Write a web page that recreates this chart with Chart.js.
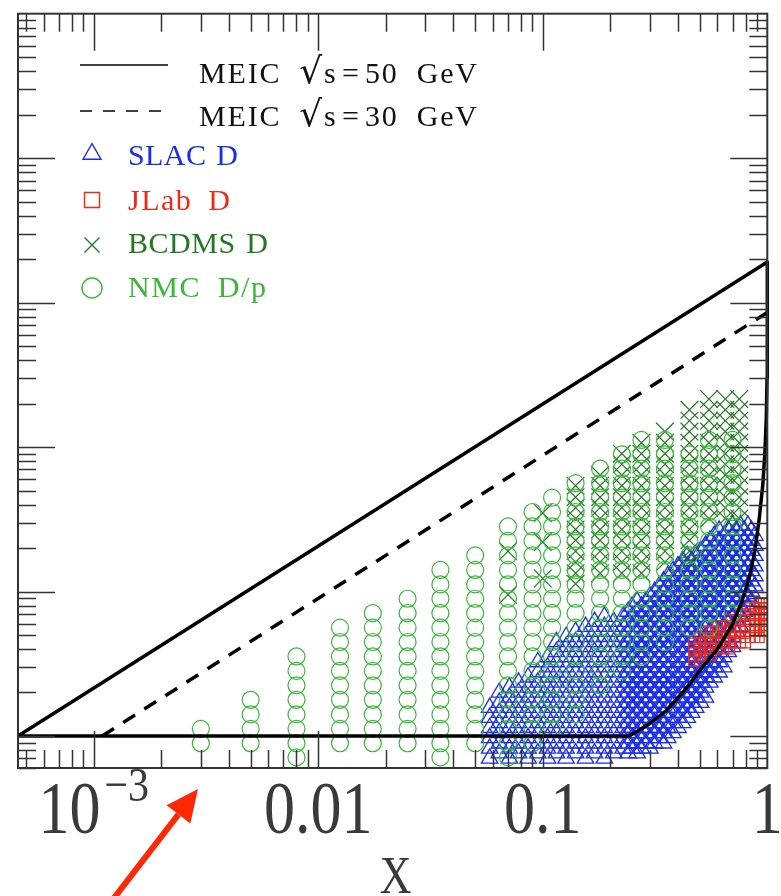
<!DOCTYPE html>
<html lang="en">
<head>
<meta charset="UTF-8">
<title>MEIC kinematic coverage</title>
<script src="https://cdn.jsdelivr.net/npm/chart.js@4.4.1/dist/chart.umd.min.js"></script>
<style>
  body { margin: 0; background: #fff; }
  canvas { display: block; }
</style>
</head>
<body>
<canvas id="myChart" width="781" height="896"></canvas>
<script>
// axis ranges and tick labels
var xMin = 4.6e-4, xMax = 1;
var yMin = 0.6, yMax = 1e5;
var xTicks = [0.001, 0.01, 0.1, 1];
var xTickLabels = ['10^−3', '0.01', '0.1', '1'];
var xTitle = 'X';

// MEIC coverage boundaries (x, Q2)
var meic50X  = [4.6e-4, 0.243, 0.3, 0.355, 0.42, 0.5, 0.6, 0.7, 0.77, 0.83, 0.88, 0.92, 0.955, 0.975, 0.99, 0.997, 1, 4.6e-4];
var meic50Q2 = [1, 1, 1.22, 1.5, 2.0, 2.83, 4.0, 5.95, 8.5, 12.3, 19, 31.6, 55, 90, 160, 300, 1910, 1];
var meic30X  = [1.09e-3, 1];
var meic30Q2 = [1, 855];

// NMC D/p : x bins, Q2 bins, Q2 range of each column
var nmcX  = [0.003, 0.005, 0.008, 0.0125, 0.0175, 0.025, 0.035, 0.05, 0.07, 0.09, 0.11, 0.14, 0.18, 0.225, 0.275, 0.35, 0.45, 0.55, 0.7];
var nmcQ2Bins = [0.71, 0.89, 1.12, 1.41, 1.78, 2.24, 2.82, 3.55, 4.47, 5.62, 7.08, 8.91, 11.2, 14.1, 17.8, 22.4, 28.2, 35.5, 44.7, 56.2, 70.8, 89.1, 112];
var nmcLo = [0.89, 0.89, 0.71, 0.89, 0.89, 0.89, 0.71, 0.89, 0.71, 0.89, 1.12, 1.41, 2.24, 2.82, 3.55, 4.47, 5.62, 5.62, 7.08];
var nmcHi = [1.12, 1.78, 3.55, 5.62, 7.08, 8.91, 14.1, 17.8, 28.2, 35.5, 44.7, 56.2, 70.8, 89.1, 112, 112, 89.1, 112, 112];

// BCDMS D
var bcdmsX  = [0.14, 0.18, 0.225, 0.275, 0.35, 0.45, 0.55, 0.65, 0.75];
var bcdmsQ2Bins = [9.5, 11.3, 13.4, 16, 19, 22.6, 26.9, 32, 38, 45, 54, 64, 76, 90, 107, 128, 152, 181, 215];
var bcdmsLo = [11.3, 13.4, 13.4, 13.4, 16, 16, 32, 32, 32];
var bcdmsHi = [54, 64, 90, 107, 128, 181, 215, 215, 215];
var bcdmsSparseX  = [0.07, 0.07, 0.1, 0.1, 0.1];
var bcdmsSparseQ2 = [9.5, 19, 12.3, 22, 35];

// SLAC D
var slacX  = [0.058, 0.064, 0.071, 0.078, 0.086, 0.095, 0.105, 0.115, 0.127, 0.14, 0.155, 0.17, 0.188, 0.207, 0.228,
              0.24, 0.25, 0.263, 0.275, 0.288, 0.3, 0.315, 0.33, 0.345, 0.36, 0.38, 0.4, 0.42, 0.44, 0.46,
              0.48, 0.505, 0.53, 0.555, 0.58, 0.61, 0.64, 0.67, 0.7, 0.73, 0.76, 0.79, 0.82, 0.85, 0.88];
var slacQ2BinsA = [0.7, 0.82, 0.97, 1.14, 1.34, 1.57, 1.85, 2.17, 2.55, 3.0, 3.52, 4.14, 4.86, 5.71, 6.71, 7.89, 9.27, 10.9, 12.8, 15.0, 17.7, 20.8, 24.4, 28.7];
var slacQ2BinsB = [0.76, 0.89, 1.05, 1.23, 1.45, 1.7, 2.0, 2.35, 2.76, 3.25, 3.82, 4.48, 5.27, 6.19, 7.27, 8.55, 10.0, 11.8, 13.9, 16.3, 19.2, 22.5, 26.5, 31.1];
var slacLo = [0.7, 0.7, 0.7, 0.7, 0.7, 0.7, 0.7, 0.7, 0.7, 0.7, 0.7, 0.7, 0.7, 0.7, 0.72,
              0.73, 0.75, 0.76, 0.78, 0.79, 0.8, 0.82, 0.85, 0.88, 0.92, 0.96, 1.0, 1.1, 1.2, 1.3,
              1.4, 1.6, 1.8, 2.1, 2.4, 2.7, 3.0, 3.5, 4.0, 4.5, 5.0, 6.0, 7.0, 8.5, 10];
var slacHi = [1.7, 2.0, 2.2, 2.5, 2.9, 3.4, 4.0, 4.5, 5.0, 5.4, 5.8, 6.3, 6.8, 7.2, 7.6,
              8.0, 8.4, 8.8, 9.2, 9.6, 10, 10.8, 11.5, 12.2, 13, 14.2, 15.5, 16.8, 18, 19,
              20, 21.5, 23, 24, 25, 26.5, 28, 29, 30, 30, 30, 29.5, 29, 28, 27];

// JLab D
var jlabX  = [0.47, 0.5, 0.53, 0.56, 0.6, 0.64, 0.68, 0.72, 0.76, 0.8, 0.84, 0.88, 0.92, 0.96, 0.99];
var jlabQ2Bins = [3.0, 3.3, 3.6, 4.0, 4.4, 4.8, 5.3, 5.8, 6.4, 7.0, 7.7, 8.4];
var jlabLo = [3.3, 3.3, 3.6, 3.6, 4.0, 4.0, 4.0, 4.4, 4.4, 4.4, 4.8, 4.8, 4.8, 5.3, 5.3];
var jlabHi = [4.4, 4.8, 5.3, 5.3, 5.8, 5.8, 6.4, 6.4, 7.0, 7.0, 7.7, 7.7, 8.4, 8.4, 8.4];

var blue = 'rgb(25,45,235)', red = 'rgb(240,40,20)', dkgreen = 'rgb(35,120,35)', ltgreen = 'rgb(55,185,55)';

function pairs(xs, ys) {
  return xs.map(function (x, i) { return { x: x, y: ys[i] }; });
}
// keep the bins of each column that fall inside its measured range
function columns(xs, bins, lo, hi) {
  var pts = [];
  xs.forEach(function (x, i) {
    var b = Array.isArray(bins[0]) ? bins[i % bins.length] : bins;
    b.forEach(function (q) {
      if (q >= lo[i] * 0.999 && q <= hi[i] * 1.001) pts.push({ x: x, y: q });
    });
  });
  return pts;
}

var datasets = [
  { label: 'MEIC √s=50 GeV', data: pairs(meic50X, meic50Q2), showLine: true, borderColor: '#000', borderWidth: 3.5,
    pointRadius: 0, borderJoinStyle: 'round', order: 0, clip: 4 },
  { label: 'MEIC √s=30 GeV', data: pairs(meic30X, meic30Q2), showLine: true, borderColor: '#000', borderWidth: 3.5,
    borderDash: [14, 11], pointRadius: 0, order: 0, clip: 4 },
  { label: 'SLAC D', data: columns(slacX, [slacQ2BinsA, slacQ2BinsB], slacLo, slacHi), pointStyle: 'triangle',
    pointRadius: 9.5, borderColor: blue, backgroundColor: 'rgba(0,0,0,0)', pointBorderWidth: 1.3, order: 4, clip: 0 },
  { label: 'JLab D', data: columns(jlabX, jlabQ2Bins, jlabLo, jlabHi), pointStyle: 'rect',
    pointRadius: 7, borderColor: red, backgroundColor: 'rgba(0,0,0,0)', pointBorderWidth: 1.2, order: 3, clip: 0 },
  { label: 'BCDMS D', data: columns(bcdmsX, bcdmsQ2Bins, bcdmsLo, bcdmsHi).concat(pairs(bcdmsSparseX, bcdmsSparseQ2)),
    pointStyle: 'crossRot', pointRadius: 12.5, borderColor: dkgreen, backgroundColor: 'rgba(0,0,0,0)', pointBorderWidth: 1.2, order: 2, clip: 0 },
  { label: 'NMC D/p', data: columns(nmcX, nmcQ2Bins, nmcLo, nmcHi), pointStyle: 'circle',
    pointRadius: 8.5, borderColor: ltgreen, backgroundColor: 'rgba(0,0,0,0)', pointBorderWidth: 1.2, order: 1, clip: 0 }
];

// inward ticks on all four sides + frame
var framePlugin = {
  id: 'frame',
  afterDatasetsDraw: function (chart) {
    var ctx = chart.ctx, a = chart.chartArea, xs = chart.scales.x, ys = chart.scales.y;
    ctx.save();
    ctx.strokeStyle = '#333';
    ctx.lineWidth = 1.5;
    ctx.beginPath();
    for (var e = -4; e <= 0; e++) {
      for (var m = 1; m <= 9; m++) {
        var v = m * Math.pow(10, e);
        if (v <= xMin || v >= xMax) continue;
        var px = Math.round(xs.getPixelForValue(v)) + 0.5, len = m === 1 ? 37 : 18;
        ctx.moveTo(px, a.bottom); ctx.lineTo(px, a.bottom - len);
        ctx.moveTo(px, a.top); ctx.lineTo(px, a.top + len);
      }
    }
    for (e = -1; e <= 5; e++) {
      for (m = 1; m <= 9; m++) {
        v = m * Math.pow(10, e);
        if (v <= yMin || v >= yMax) continue;
        var py = Math.round(ys.getPixelForValue(v)) + 0.5;
        len = m === 1 ? 37 : 18;
        ctx.moveTo(a.left, py); ctx.lineTo(a.left + len, py);
        ctx.moveTo(a.right, py); ctx.lineTo(a.right - len, py);
      }
    }
    ctx.stroke();
    ctx.lineWidth = 2;
    ctx.strokeRect(a.left, a.top, a.right - a.left, a.bottom - a.top);
    ctx.restore();
  }
};

// x tick labels and axis title, drawn a little taller than wide like the original
var labelPlugin = {
  id: 'xlabels',
  afterDraw: function (chart) {
    var ctx = chart.ctx, xs = chart.scales.x, sy = 1.18;
    ctx.save();
    ctx.fillStyle = '#3a3a3a';
    ctx.textBaseline = 'alphabetic';
    xTickLabels.forEach(function (lab, i) {
      var px = xs.getPixelForValue(xTicks[i]);
      var parts = lab.split('^');
      ctx.font = '62px "Liberation Serif", serif';
      var wb = ctx.measureText(parts[0]).width;
      var we = 0;
      if (parts[1]) { ctx.font = '42px "Liberation Serif", serif'; we = ctx.measureText(parts[1]).width + 4; }
      var x0 = px - (wb + we) / 2;
      ctx.save();
      ctx.translate(x0, 833); ctx.scale(1, sy);
      ctx.font = '62px "Liberation Serif", serif';
      ctx.textAlign = 'left';
      ctx.fillText(parts[0], 0, 0);
      ctx.restore();
      if (parts[1]) {
        ctx.save();
        ctx.translate(x0 + wb + 4, 801); ctx.scale(1, sy);
        ctx.font = '42px "Liberation Serif", serif';
        ctx.fillText(parts[1], 0, 0);
        ctx.restore();
      }
    });
    var a = chart.chartArea;
    ctx.save();
    ctx.translate((a.left + a.right) / 2 + 3, 893); ctx.scale(1, 1.2);
    ctx.font = '44px "Liberation Serif", serif';
    ctx.textAlign = 'center';
    ctx.fillText(xTitle, 0, 0);
    ctx.restore();
    ctx.restore();
  }
};

// text stretched to a target width, more of the stretch going into word gaps and around '='
function spacedText(ctx, text, x, y, target, baseFont, rootFont) {
  var chars = Array.from(text);
  function fontFor(c) { return c === '√' ? rootFont : baseFont; }
  var widths = chars.map(function (c) { ctx.font = fontFor(c); return ctx.measureText(c).width; });
  var natural = widths.reduce(function (s, w) { return s + w; }, 0);
  var weights = [], total = 0;
  for (var i = 0; i < chars.length - 1; i++) {
    var a = chars[i], b = chars[i + 1];
    var wgt = (a === ' ' || b === ' ') ? 2 : (a === '=' || b === '=') ? 2 : 0.6;
    weights.push(wgt); total += wgt;
  }
  var unit = total > 0 ? Math.max(0, target - natural) / total : 0;
  chars.forEach(function (c, k) {
    ctx.font = fontFor(c);
    ctx.fillText(c, x, y);
    x += widths[k] + (k < weights.length ? weights[k] * unit : 0);
  });
}

function marker(ctx, style, x, y, r) {
  ctx.beginPath();
  if (style === 'triangle') {
    ctx.moveTo(x, y - r); ctx.lineTo(x + r * 0.866, y + r / 2); ctx.lineTo(x - r * 0.866, y + r / 2); ctx.closePath();
  } else if (style === 'rect') {
    ctx.rect(x - r, y - r, 2 * r, 2 * r);
  } else if (style === 'crossRot') {
    ctx.moveTo(x - r, y - r); ctx.lineTo(x + r, y + r); ctx.moveTo(x + r, y - r); ctx.lineTo(x - r, y + r);
  } else {
    ctx.arc(x, y, r, 0, Math.PI * 2);
  }
  ctx.stroke();
}

// legend in the upper left corner
var legendPlugin = {
  id: 'legendBox',
  afterDraw: function (chart) {
    var ctx = chart.ctx;
    var rows = [
      { y: 65, base: 83, tx: 199, w: 278, size: 0 },
      { y: 111, base: 126, tx: 199, w: 278, size: 0 },
      { y: 154, base: 165, tx: 128, w: 110, size: 10.4 },
      { y: 200, base: 210, tx: 128, w: 102, size: 7.5 },
      { y: 245, base: 253, tx: 128, w: 140, size: 7.5 },
      { y: 288, base: 297, tx: 128, w: 138, size: 10 }
    ];
    var baseFont = '30px "Liberation Serif", serif', rootFont = '36px "DejaVu Serif", serif';
    ctx.save();
    ctx.textBaseline = 'alphabetic';
    chart.data.datasets.forEach(function (ds, i) {
      var r = rows[i];
      if (ds.showLine) {
        ctx.strokeStyle = '#000';
        ctx.lineWidth = 1.6;
        ctx.setLineDash(ds.borderDash ? [12, 11] : []);
        ctx.beginPath(); ctx.moveTo(80, r.y); ctx.lineTo(168, r.y); ctx.stroke();
        ctx.setLineDash([]);
        ctx.fillStyle = '#111';
      } else {
        ctx.strokeStyle = ds.borderColor;
        ctx.lineWidth = 1.4;
        marker(ctx, ds.pointStyle, 92, r.y, r.size);
        ctx.fillStyle = ds.borderColor;
      }
      spacedText(ctx, ds.label, r.tx, r.base, r.w, baseFont, rootFont);
    });
    ctx.restore();
  }
};

// red annotation arrow under the axis
var arrowPlugin = {
  id: 'arrow',
  afterDraw: function (chart) {
    var ctx = chart.ctx;
    var x0 = 114, y0 = 898, x1 = 198, y1 = 789;
    var ang = Math.atan2(y1 - y0, x1 - x0), hl = 32, hw = 15;
    var bx = x1 - hl * Math.cos(ang), by = y1 - hl * Math.sin(ang);
    ctx.save();
    ctx.strokeStyle = ctx.fillStyle = 'rgb(255,40,5)';
    ctx.lineWidth = 6;
    ctx.beginPath(); ctx.moveTo(x0, y0); ctx.lineTo(bx, by); ctx.stroke();
    ctx.beginPath();
    ctx.moveTo(x1, y1);
    ctx.lineTo(bx + hw * Math.sin(ang), by - hw * Math.cos(ang));
    ctx.lineTo(bx - hw * Math.sin(ang), by + hw * Math.cos(ang));
    ctx.closePath(); ctx.fill();
    ctx.restore();
  }
};

var ctx = document.getElementById('myChart').getContext('2d');
var chart = new Chart(ctx, {
  type: 'scatter',
  data: { datasets: datasets },
  options: {
    responsive: false,
    animation: false,
    events: [],
    layout: { padding: { left: 18, top: 7, right: 12, bottom: 128 } },
    scales: {
      x: { type: 'logarithmic', min: xMin, max: xMax, bounds: 'data', display: false },
      y: { type: 'logarithmic', min: yMin, max: yMax, bounds: 'data', display: false }
    },
    plugins: { legend: { display: false }, tooltip: { enabled: false } }
  },
  plugins: [framePlugin, labelPlugin, legendPlugin, arrowPlugin]
});
</script>
</body>
</html>
